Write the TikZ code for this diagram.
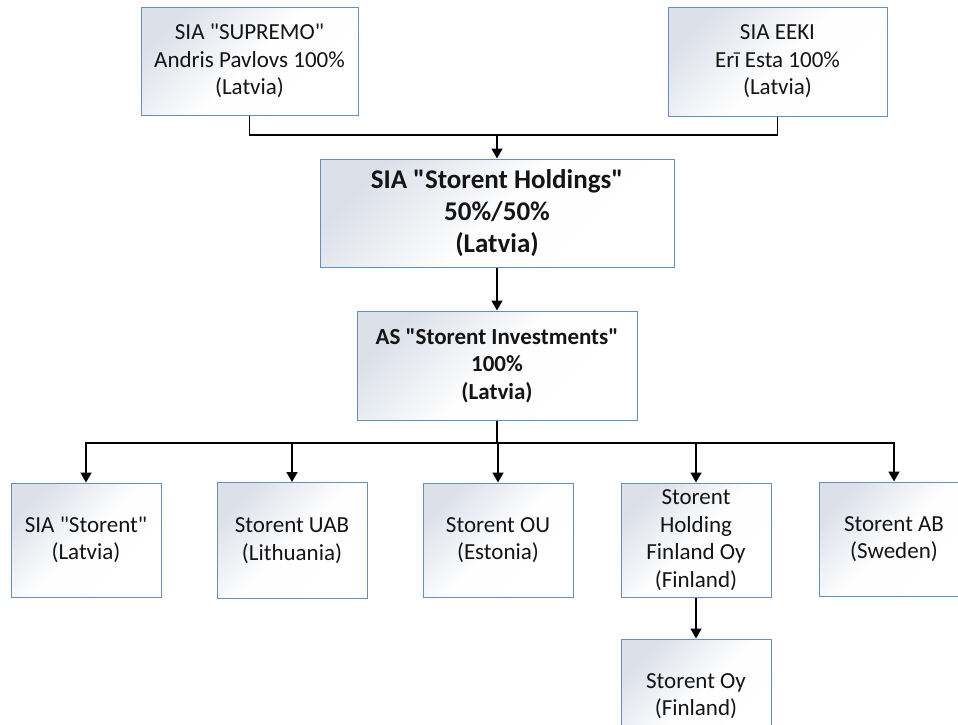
\documentclass[tikz,border=0pt]{standalone}
\usepackage{fontspec}
\setmainfont{Carlito}[Ligatures=TeXOff]
\usetikzlibrary{arrows.meta}
\definecolor{boxborder}{RGB}{105,142,185}
\definecolor{boxgrey}{RGB}{220,224,233}
\definecolor{txt}{RGB}{20,20,20}
\tikzset{
  orgbox/.style={draw=boxborder, line width=1pt, top color=boxgrey, bottom color=white,
    middle color=white!96!boxgrey, shading angle=45, inner sep=0pt, align=center, text=txt,
    font=\fontsize{23}{27.5}\selectfont},
  conn/.style={draw=black, line width=1.8pt, -{Triangle[width=11pt,length=10pt]}},
  plain/.style={draw=black, line width=1.8pt}
}
\begin{document}
\begin{tikzpicture}[x=1pt,y=-1pt]
\useasboundingbox (0,0) rectangle (958,724);
\clip (0,0) rectangle (958,724);
\node[orgbox, minimum width=217pt, minimum height=108pt] (sup) at (249.5,61)
  {SIA "SUPREMO"\\Andris Pavlovs 100\%\\(Latvia)};
\node[orgbox, minimum width=219pt, minimum height=109pt] (eeki) at (777.5,61.5)
  {SIA EEKI\\Erī Esta 100\%\\(Latvia)};
\node[orgbox, minimum width=354pt, minimum height=108pt,
  font=\fontsize{27}{32}\selectfont\bfseries] (hold) at (497,213)
  {SIA "Storent Holdings"\\50\%/50\%\\(Latvia)};
\node[orgbox, minimum width=280pt, minimum height=109pt,
  font=\fontsize{23}{27.5}\selectfont\bfseries] (inv) at (497,365.5)
  {AS "Storent Investments"\\100\%\\(Latvia)};
\node[orgbox, minimum width=150pt, minimum height=114pt] (s1) at (86,540)
  {SIA "Storent"\\(Latvia)};
\node[orgbox, minimum width=150pt, minimum height=116pt] (s2) at (292,540.5)
  {Storent UAB\\(Lithuania)};
\node[orgbox, minimum width=150pt, minimum height=114pt] (s3) at (498,540)
  {Storent OU\\(Estonia)};
\node[orgbox, minimum width=150pt, minimum height=114pt] (s4) at (696,540)
  {Storent\\Holding\\Finland Oy\\(Finland)};
\node[orgbox, minimum width=150pt, minimum height=114pt] (s5) at (894,539)
  {Storent AB\\(Sweden)};
\node[orgbox, minimum width=150pt, minimum height=114pt] (oy) at (696,696)
  {Storent Oy\\(Finland)};
\coordinate (topbus) at (497,135);
\coordinate (lowbus) at (497,443);
\draw[plain] (sup.south) |- (topbus);
\draw[plain] (eeki.south) |- (topbus);
\draw[conn] (topbus) -- (hold.north);
\draw[conn] (hold.south) -- (inv.north);
\draw[plain] (inv.south) -- (lowbus);
\foreach \c in {s1,s2,s3,s4,s5}{
  \draw[conn] (lowbus) -| (\c.north);
}
\draw[conn] (s4.south) -- (oy.north);
\end{tikzpicture}
\end{document}
